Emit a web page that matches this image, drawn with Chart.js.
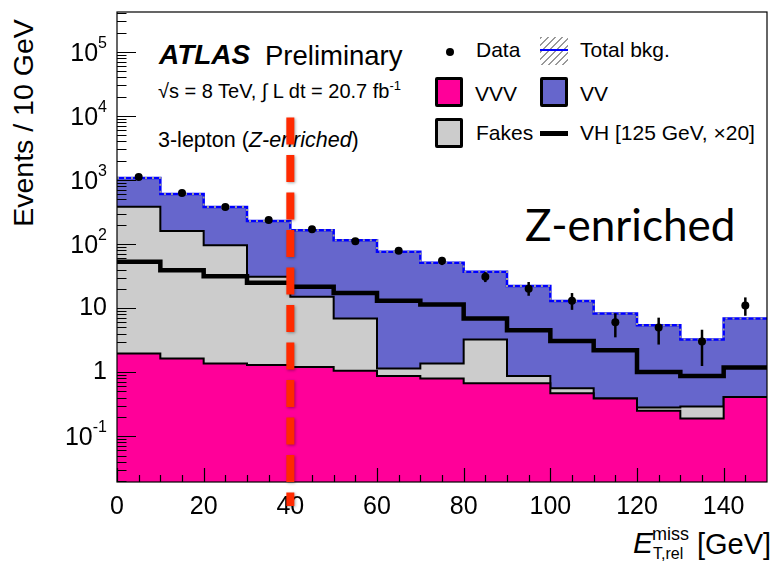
<!DOCTYPE html>
<html lang="en">
<head>
    <meta charset="UTF-8">
    <title>3-lepton Z-enriched ETmiss,rel</title>
    <script src="https://cdn.jsdelivr.net/npm/chart.js"></script>
    <style>
        body { margin: 0; background: #fff; }
        #wrap { position: relative; width: 771px; height: 562px; font-family: "Liberation Sans", Arial, sans-serif; color: #000; }
        #wrap canvas { position: absolute; left: 0; top: 0; z-index: 2; }
        .t { position: absolute; white-space: nowrap; line-height: 1; z-index: 1; }
        .box { position: absolute; box-sizing: border-box; border: 3px solid #000; border-radius: 2px; z-index: 1; }
        .leg { font-size: 21px; }
    </style>
</head>
<body>
<div id="wrap">
    <canvas id="plot" width="771" height="562"></canvas>

    <div class="t" style="left:23px; top:123px; font-size:28.5px; transform:translate(-50%,-50%) rotate(-90deg);">Events / 10 GeV</div>

    <div class="t" style="left:159px; top:41px; font-size:28px; font-weight:bold; font-style:italic;">ATLAS</div>
    <div class="t" style="left:265px; top:41.5px; font-size:27.5px;">Preliminary</div>
    <div class="t" style="left:158px; top:79px; font-size:20px;">&radic;s = 8 TeV, &int; L dt = 20.7 fb<sup style="font-size:13px;">-1</sup></div>
    <div class="t" style="left:158px; top:130px; font-size:21.5px;">3-lepton (<i>Z-enriched</i>)</div>

    <div class="t" style="left:446px; top:48px; width:8px; height:8px; border-radius:50%; background:#000;"></div>
    <div class="t leg" style="left:476px; top:39px;">Data</div>
    <div class="t" style="left:540px; top:37px; width:28px; height:28px; background:repeating-linear-gradient(135deg, #999 0 1.5px, transparent 1.5px 5px);"></div>
    <div class="t" style="left:540px; top:49px; width:28px; height:2px; background:#0000ff;"></div>
    <div class="t leg" style="left:580px; top:39px;">Total bkg.</div>

    <div class="box" style="left:435px; top:77px; width:28px; height:30px; background:#ff0099;"></div>
    <div class="t leg" style="left:475px; top:83px;">VVV</div>
    <div class="box" style="left:540px; top:77px; width:28px; height:30px; background:#6666cc;"></div>
    <div class="t leg" style="left:580px; top:83px;">VV</div>

    <div class="box" style="left:435px; top:118px; width:28px; height:30px; background:#cccccc;"></div>
    <div class="t leg" style="left:476px; top:122px;">Fakes</div>
    <div class="t" style="left:540px; top:131px; width:28px; height:5px; background:#000;"></div>
    <div class="t leg" style="left:580px; top:122px;">VH [125 GeV, &times;20]</div>

    <div class="t" style="left:525px; top:202px; font-size:44px; font-family:Lato, 'Open Sans', sans-serif;">Z-enriched</div>

    <div class="t" style="left:633px; top:528px; font-size:30px; font-style:italic;">E</div>
    <div class="t" style="left:652px; top:525px; font-size:18px;">miss</div>
    <div class="t" style="left:653px; top:546px; font-size:16px;">T,rel</div>
    <div class="t" style="left:697px; top:530px; font-size:29px;">[GeV]</div>
</div>

<script>
    // bins of 10 GeV, left edges
    const binLow = [0, 10, 20, 30, 40, 50, 60, 70, 80, 90, 100, 110, 120, 130, 140];
    const binWidth = 10;
    const xMax = 150;

    // expected events per bin
    const vvv   = [1.96, 1.64, 1.37, 1.29, 1.21, 1.05, 0.87, 0.80, 0.67, 0.67, 0.47, 0.39, 0.25, 0.19, 0.41];
    const fakes = [381, 159, 94.6, 29.5, 13.8, 5.85, 0.27, 0.57, 2.57, 0.20, 0.09, 0, 0.03, 0.10, 0];
    const vv    = [691, 443, 282, 198, 150, 108, 74.7, 49.6, 33.7, 21.2, 12.4, 7.87, 5.14, 2.95, 6.5];
    const vh20  = [52.9, 39.2, 31.6, 24.8, 21.5, 17.3, 13.0, 11.4, 6.9, 4.5, 3.08, 2.2, 1.01, 0.87, 1.18];

    // observed data with error bar ends
    const dataCounts  = [1114, 627, 378, 237, 171, 111, 79, 55, 31, 20, 13, 6, 5, 3, 11];
    const dataErrHigh = [1147, 652, 398, 253, 184, 122, 88, 63, 36.5, 25.6, 17.2, 8.3, 7.1, 4.6, 14.7];
    const dataErrLow  = [1081, 602, 358, 221, 158, 100, 70, 47, 25.5, 15.6, 9.4, 3.5, 2.7, 1.25, 7.6];

    const xTicks = [0, 20, 40, 60, 80, 100, 120, 140];
    const yTicks = [0.1, 1, 10, 100, 1000, 10000, 100000];
    const yTickBase = ['10', '1', '10', '10', '10', '10', '10'];
    const yTickExp  = ['-1', '', '', '2', '3', '4', '5'];
    const yMin = 0.0193;
    const yMax = 4.2e5;

    // Z-enriched cut marker
    const cutValue = 40;
    const cutFrom = 9500;

    function steps(vals) {
        const pts = vals.map((v, i) => ({ x: binLow[i], y: v }));
        pts.push({ x: xMax, y: vals[vals.length - 1] });
        return pts;
    }

    const vvvTop = vvv.slice();
    const fakesTop = vvv.map((v, i) => v + fakes[i]);
    const totalTop = fakesTop.map((v, i) => v + vv[i]);

    const frameTicks = {
        id: 'frameTicks',
        afterDraw(chart) {
            const { ctx, chartArea: a, scales: { x, y } } = chart;
            ctx.save();
            ctx.strokeStyle = '#000';
            ctx.lineWidth = 1.2;
            ctx.strokeRect(a.left, a.top, a.right - a.left, a.bottom - a.top);
            ctx.beginPath();
            for (let v = 0; v < xMax; v += 5) {
                const px = Math.round(x.getPixelForValue(v)) + 0.5;
                const len = v % 20 === 0 ? 14 : 7;
                ctx.moveTo(px, a.bottom);
                ctx.lineTo(px, a.bottom - len);
            }
            for (let k = -2; k <= 5; k++) {
                for (let m = 1; m <= 9; m++) {
                    const v = m * Math.pow(10, k);
                    if (v < yMin || v > yMax) continue;
                    const py = Math.round(y.getPixelForValue(v)) + 0.5;
                    ctx.moveTo(a.left, py);
                    ctx.lineTo(a.left + (m === 1 ? 19 : 9.5), py);
                }
            }
            ctx.stroke();

            // y labels with superscript exponents
            ctx.fillStyle = '#000';
            const right = a.left - 10;
            yTicks.forEach((v, i) => {
                const py = y.getPixelForValue(v);
                let xe = right;
                if (yTickExp[i]) {
                    ctx.font = '16px "Liberation Sans", Arial, sans-serif';
                    ctx.textAlign = 'right';
                    ctx.textBaseline = 'alphabetic';
                    ctx.fillText(yTickExp[i], right, py - 4);
                    xe = right - ctx.measureText(yTickExp[i]).width;
                }
                ctx.font = '25px "Liberation Sans", Arial, sans-serif';
                ctx.textAlign = 'right';
                ctx.textBaseline = 'middle';
                ctx.fillText(yTickBase[i], xe, py + (yTickExp[i] ? 2 : 0));
            });
            ctx.restore();
        }
    };

    const errorBars = {
        id: 'errorBars',
        afterDatasetsDraw(chart) {
            const { ctx, scales: { x, y } } = chart;
            ctx.save();
            ctx.strokeStyle = '#000';
            ctx.lineWidth = 2.5;
            dataCounts.forEach((n, i) => {
                const px = x.getPixelForValue(binLow[i] + binWidth / 2);
                ctx.beginPath();
                ctx.moveTo(px, y.getPixelForValue(dataErrLow[i]));
                ctx.lineTo(px, y.getPixelForValue(dataErrHigh[i]));
                ctx.stroke();
            });
            ctx.restore();
        }
    };

    const cutLine = {
        id: 'cutLine',
        afterDraw(chart) {
            const { ctx, chartArea: a, scales: { x, y } } = chart;
            const px = x.getPixelForValue(cutValue);
            ctx.save();
            ctx.strokeStyle = '#ff2a00';
            ctx.lineWidth = 8;
            ctx.setLineDash([27, 10.5]);
            ctx.shadowColor = 'rgba(0,0,0,0.35)';
            ctx.shadowBlur = 3;
            ctx.shadowOffsetX = 1;
            ctx.shadowOffsetY = 1;
            ctx.beginPath();
            ctx.moveTo(px, y.getPixelForValue(cutFrom));
            ctx.lineTo(px, a.bottom + 24);
            ctx.stroke();
            ctx.restore();
        }
    };

    const stepLine = (label, vals, extra) => Object.assign({
        type: 'line', label: label, data: steps(vals), stepped: true,
        pointRadius: 0, borderWidth: 2, borderColor: '#000', fill: false
    }, extra);

    new Chart(document.getElementById('plot'), {
        data: {
            datasets: [
                stepLine('VVV', vvvTop, { fill: 'start', backgroundColor: '#ff0099', order: 5 }),
                stepLine('Fakes', fakesTop, { fill: '-1', backgroundColor: '#cccccc', order: 6 }),
                stepLine('VV', totalTop, { fill: '-1', backgroundColor: '#6666cc', borderColor: '#0000ff', borderWidth: 2.5, order: 7 }),
                stepLine('Total bkg.', totalTop, { borderColor: '#9a9a9a', borderWidth: 2, borderDash: [2, 5], order: 4 }),
                stepLine('VH [125 GeV, x20]', vh20, { borderWidth: 4.5, order: 2 }),
                {
                    type: 'scatter', label: 'Data',
                    data: dataCounts.map((n, i) => ({ x: binLow[i] + binWidth / 2, y: n })),
                    pointRadius: 4, pointBackgroundColor: '#000', pointBorderWidth: 0, showLine: false, order: 0
                }
            ]
        },
        options: {
            responsive: false,
            animation: false,
            layout: { padding: { left: 0, right: 3, top: 12, bottom: 0 } },
            plugins: { legend: { display: false }, tooltip: { enabled: false } },
            scales: {
                x: {
                    type: 'linear', min: 0, max: xMax,
                    grid: { display: false }, border: { display: false },
                    afterBuildTicks: s => { s.ticks = xTicks.map(v => ({ value: v })); },
                    afterFit: s => { s.height = 80; },
                    ticks: { padding: 2, autoSkip: false, maxRotation: 0, color: '#000',
                             font: { family: 'Liberation Sans', size: 25 } }
                },
                y: {
                    type: 'logarithmic', min: yMin, max: yMax,
                    grid: { display: false }, border: { display: false },
                    afterBuildTicks: s => { s.ticks = yTicks.map(v => ({ value: v })); },
                    afterFit: s => { s.width = 117; },
                    ticks: { display: false }
                }
            }
        },
        plugins: [errorBars, frameTicks, cutLine]
    });
</script>
</body>
</html>
